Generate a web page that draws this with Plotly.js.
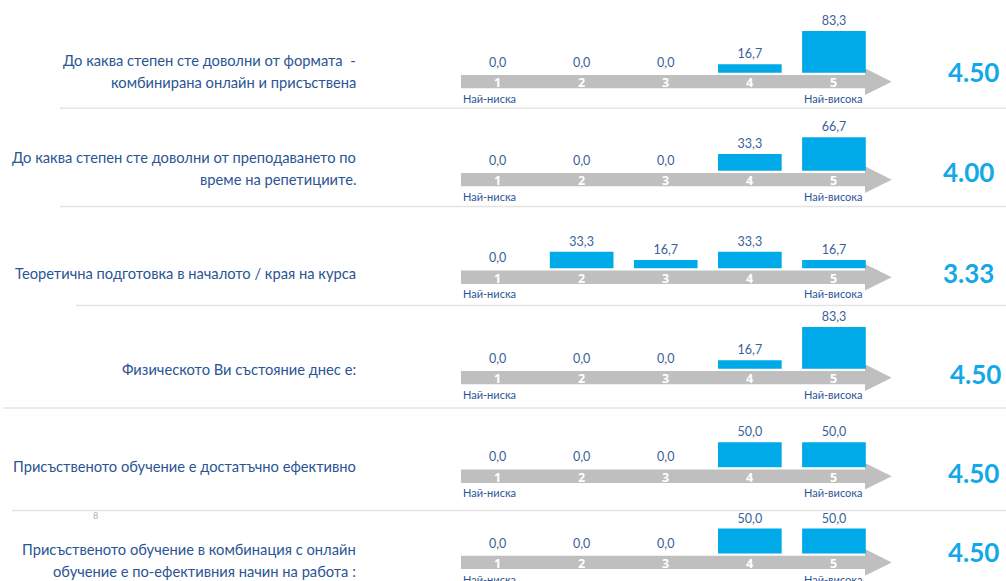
<!DOCTYPE html>
<html>
<head>
<meta charset="utf-8">
<script src="https://cdn.plot.ly/plotly-3.0.1.min.js"></script>
<style>html,body{margin:0;padding:0;background:#fff;}#chart{width:1006px;height:581px;}</style>
</head>
<body>
<div id="chart"></div>
<script>
// ---- data ----
const ratings = [1, 2, 3, 4, 5];
const ratingLabels = ['1', '2', '3', '4', '5'];
const lowLabel = 'Най-ниска';
const highLabel = 'Най-висока';
const questions = [
  ['До каква степен сте доволни от формата \u00a0-', 'комбинирана онлайн и присъствена'],
  ['До каква степен сте доволни от преподаването по', 'време на репетициите.'],
  ['Теоретична подготовка в началото / края на курса'],
  ['Физическото Ви състояние днес е:'],
  ['Присъственото обучение е достатъчно ефективно'],
  ['Присъственото обучение в комбинация с онлайн', 'обучение е по-ефективния начин на работа :']
];
const q1 = [0.0, 0.0, 0.0, 16.7, 83.3];
const q2 = [0.0, 0.0, 0.0, 33.3, 66.7];
const q3 = [0.0, 33.3, 16.7, 33.3, 16.7];
const q4 = [0.0, 0.0, 0.0, 16.7, 83.3];
const q5 = [0.0, 0.0, 0.0, 50.0, 50.0];
const q6 = [0.0, 0.0, 0.0, 50.0, 50.0];
const scores = [4.50, 4.00, 3.33, 4.50, 4.50, 4.50];
const pageNumber = '8';

// ---- layout helpers ----
const W = 1006, H = 581;
const px = v => v / W;
const py = v => 1 - v / H;
const series = [q1, q2, q3, q4, q5, q6];
const baselines = [72.7, 170.7, 268.3, 368.7, 467.3, 553.5];
const textY = [[60, 82], [156.7, 178.5], [273], [369], [466], [549, 570.7]];
const scoreY = [71.7, 171.7, 273, 374, 473, 551.7];
const scoreX = [973, 968, 968, 975, 973, 973];
const sepLines = [[60, 108.3], [60, 206.5], [76, 305.5], [3, 408], [12, 510.5]];

const textColor = '#2a5594';
const barColor = '#00aae9';
const arrowColor = '#bfbfbf';
const FONT = 'Lato, "Noto Sans", sans-serif';

const xLeftPx = 455.5, step = 84.1;
const xRange = [0.5, 6.0];
const xDomain = [px(xLeftPx), px(xLeftPx + (xRange[1] - xRange[0]) * step)];
const toX = p => (p - xLeftPx) / step + 0.5;

const traces = [];
const shapes = [];
const annotations = [];
const layout = {
  width: W, height: H,
  margin: {l: 0, r: 0, t: 0, b: 0},
  paper_bgcolor: '#ffffff', plot_bgcolor: 'rgba(0,0,0,0)',
  showlegend: false, hovermode: false,
  separators: ',.',
  font: {family: FONT, color: textColor}
};

series.forEach((vals, i) => {
  const k = i + 1;
  const xa = 'x' + (k === 1 ? '' : k);
  const ya = 'y' + (k === 1 ? '' : k);
  const B = baselines[i];
  layout['xaxis' + (k === 1 ? '' : k)] = {
    domain: xDomain, range: xRange, anchor: ya, visible: false, fixedrange: true
  };
  layout['yaxis' + (k === 1 ? '' : k)] = {
    domain: [py(B + 25), py(B - 55)], range: [-50, 110], anchor: xa, visible: false, fixedrange: true
  };
  traces.push({
    type: 'bar', x: ratings, y: vals, xaxis: xa, yaxis: ya,
    width: 0.757,
    marker: {color: barColor, line: {width: 0}},
    texttemplate: '%{y:.1f}', textposition: 'outside', cliponaxis: false,
    textfont: {family: FONT, size: 12.5, color: '#3a5f98'}
  });
  // arrow (decoration)
  const xs0 = toX(461), xs1 = toX(865), xt = toX(891.7);
  shapes.push({
    type: 'path', xref: xa, yref: ya, layer: 'below',
    path: `M ${xs0},-4.6 L ${xs1},-4.6 L ${xs1},8.8 L ${xt},-18 L ${xs1},-44.6 L ${xs1},-31.2 L ${xs0},-31.2 Z`,
    fillcolor: arrowColor, line: {width: 0}
  });
  ratings.forEach((r, j) => {
    annotations.push({
      xref: xa, yref: ya, x: r, y: -20, text: '<b>' + ratingLabels[j] + '</b>',
      showarrow: false, xanchor: 'center', yanchor: 'middle',
      font: {family: '"Noto Sans", sans-serif', size: 12.5, color: '#ffffff'}
    });
  });
  annotations.push({
    xref: xa, yref: 'paper', x: toX(461), y: py(B + 25.6), text: lowLabel, showarrow: false,
    xanchor: 'left', yanchor: 'middle', font: {family: FONT, size: 11, color: textColor}
  });
  annotations.push({
    xref: xa, yref: 'paper', x: toX(864), y: py(B + 25.6), text: highLabel, showarrow: false,
    xanchor: 'right', yanchor: 'middle', font: {family: FONT, size: 11, color: textColor}
  });
  // question text
  questions[i].forEach((line, li) => {
    annotations.push({
      xref: 'paper', yref: 'paper', x: px(358), y: py(textY[i][li]), text: line,
      showarrow: false, xanchor: 'right', yanchor: 'middle',
      font: {family: FONT, size: 14.7, color: textColor}
    });
  });
  // score
  annotations.push({
    xref: 'paper', yref: 'paper', x: px(scoreX[i]), y: py(scoreY[i]),
    text: '<b>' + scores[i].toFixed(2) + '</b>', showarrow: false,
    xanchor: 'center', yanchor: 'middle',
    font: {family: FONT, size: 26, color: '#13a8e8'}
  });
});

sepLines.forEach(s => {
  shapes.push({type: 'line', xref: 'paper', yref: 'paper', x0: px(s[0]), x1: 1,
    y0: py(s[1]), y1: py(s[1]), line: {color: '#e4e4e4', width: 1.5}});
});
annotations.push({xref: 'paper', yref: 'paper', x: px(95), y: py(515), text: pageNumber,
  showarrow: false, xanchor: 'center', yanchor: 'middle', font: {family: FONT, size: 9, color: '#b0b0b0'}});

layout.shapes = shapes;
layout.annotations = annotations;
Plotly.newPlot('chart', traces, layout, {staticPlot: true, displayModeBar: false});
</script>
</body>
</html>
